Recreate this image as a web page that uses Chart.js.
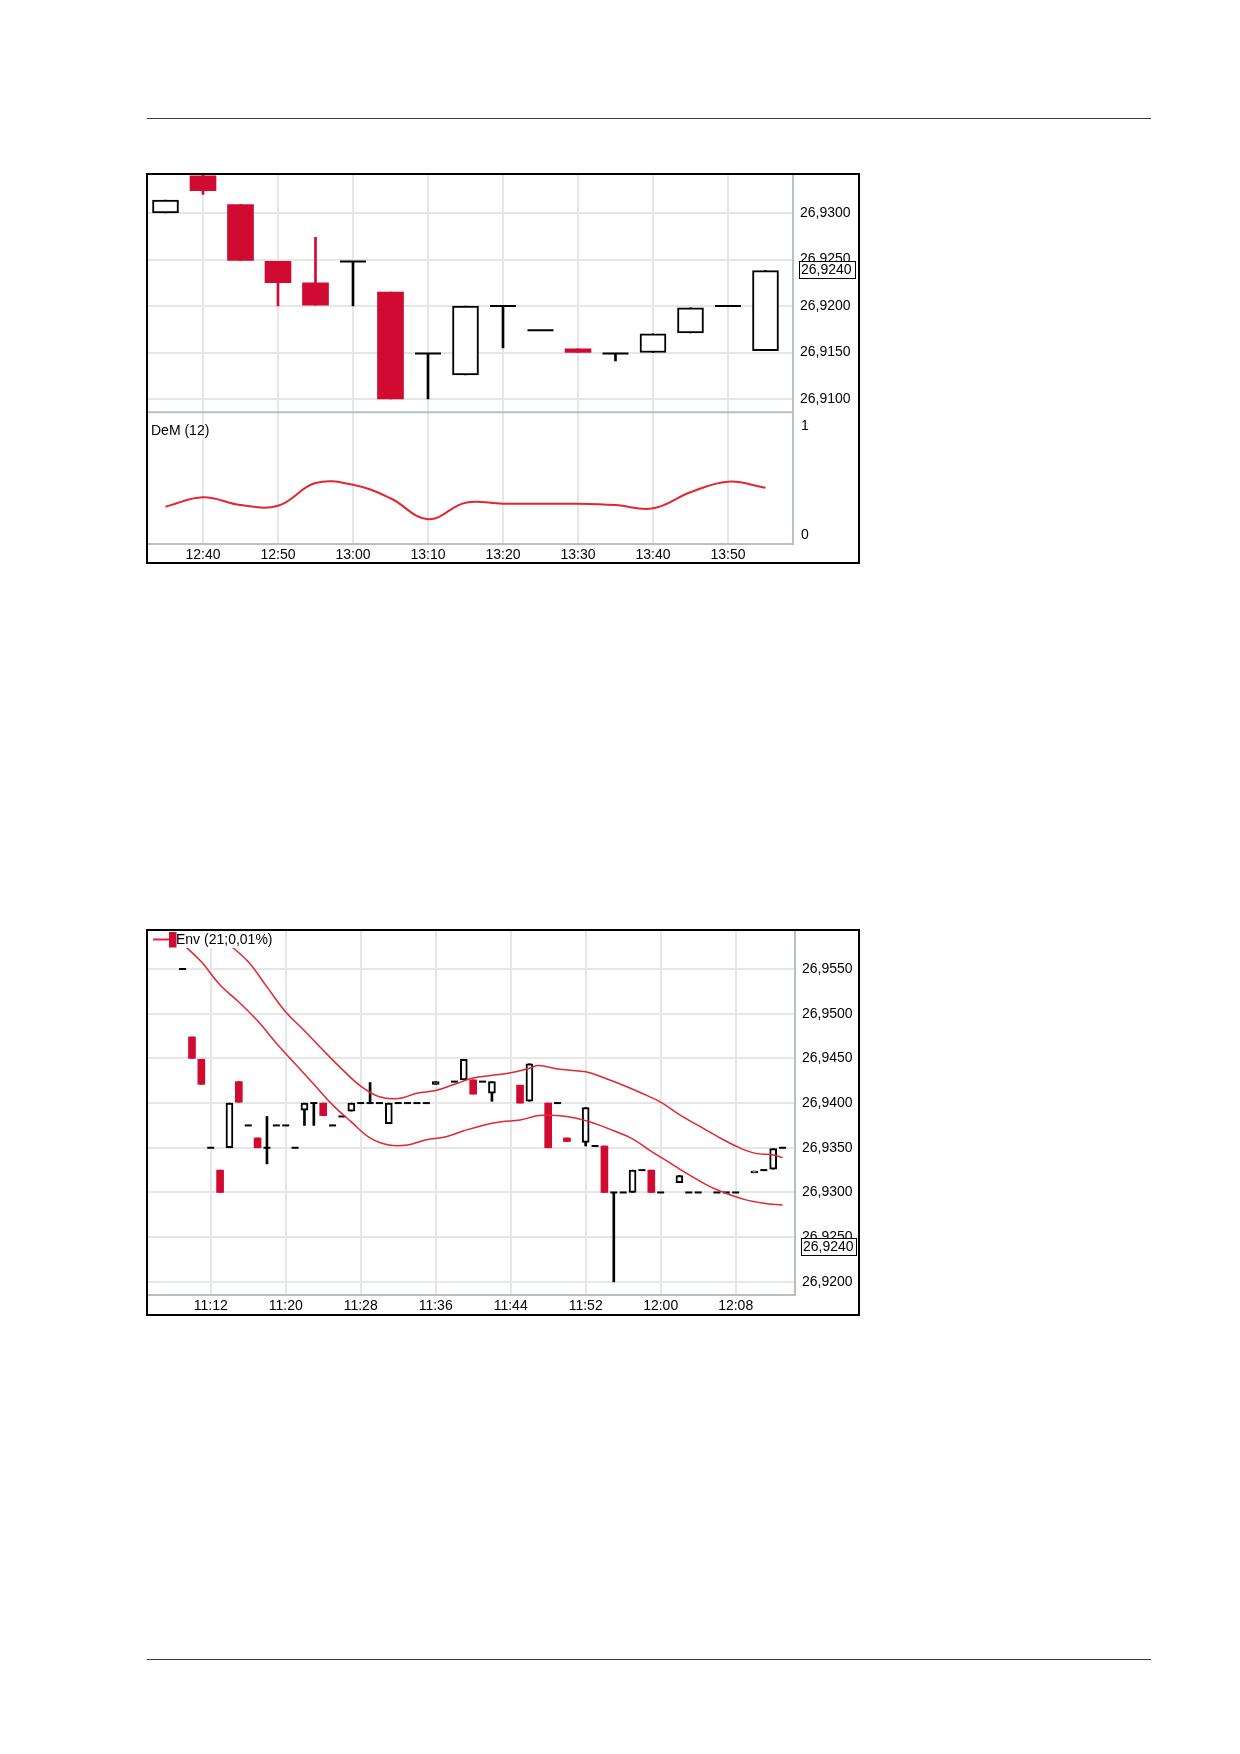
<!DOCTYPE html>
<html>
<head>
<meta charset="utf-8">
<title>Candles</title>
<script src="https://cdn.jsdelivr.net/npm/chart.js@4.4.1/dist/chart.umd.min.js"></script>
<style>
  body { margin: 0; width: 1240px; height: 1754px; background: #fff; position: relative; }
  .rule { position: absolute; left: 147px; width: 1004px; border-top: 1.5px solid #3c3c3c; }
  .box { position: absolute; left: 146px; border: 2px solid #000; background: #fff; }
  .box canvas { display: block; }
</style>
</head>
<body>
<div class="rule" style="top:117.5px"></div>
<div class="box" style="top:173px"><canvas id="c1" width="710" height="387"></canvas></div>
<div class="box" style="top:929px"><canvas id="c2" width="710" height="383"></canvas></div>
<div class="rule" style="top:1658.5px"></div>

<script>
// ---- chart 1: 5 min candles + DeM (12) ----
const times1 = ['12:35', '12:40', '12:45', '12:50', '12:55', '13:00', '13:05', '13:10', '13:15',
                '13:20', '13:25', '13:30', '13:35', '13:40', '13:45', '13:50', '13:55'];
const open1  = [26.9300, 26.9340, 26.9309, 26.9248, 26.9225, 26.9248, 26.9215, 26.9149, 26.9126,
                26.9200, 26.9174, 26.9154, 26.9149, 26.9150, 26.9171, 26.9200, 26.9152];
const high1  = [26.9314, 26.9346, 26.9309, 26.9248, 26.9274, 26.9248, 26.9215, 26.9149, 26.9200,
                26.9200, 26.9174, 26.9154, 26.9149, 26.9170, 26.9198, 26.9200, 26.9238];
const low1   = [26.9300, 26.9320, 26.9249, 26.9200, 26.9201, 26.9200, 26.9100, 26.9100, 26.9126,
                26.9155, 26.9174, 26.9150, 26.9141, 26.9150, 26.9171, 26.9200, 26.9152];
const close1 = [26.9314, 26.9324, 26.9249, 26.9225, 26.9201, 26.9248, 26.9100, 26.9149, 26.9200,
                26.9200, 26.9174, 26.9150, 26.9149, 26.9170, 26.9198, 26.9200, 26.9238];
const dem1   = [0.259, 0.345, 0.274, 0.268, 0.475, 0.460, 0.336, 0.144, 0.296,
                0.286, 0.286, 0.286, 0.274, 0.244, 0.391, 0.488, 0.433];
const xTicks1 = ['12:40', '12:50', '13:00', '13:10', '13:20', '13:30', '13:40', '13:50'];
const yTicks1 = [26.9100, 26.9150, 26.9200, 26.9250, 26.9300];
const demTicks = [0, 1];
const demLabel = 'DeM (12)';
const lastPrice1 = 26.9240;

// ---- chart 2: 1 min candles + envelope ----
const times2 = ['11:09', '11:10', '11:11', '11:12', '11:13', '11:14', '11:15', '11:16', '11:17', '11:18',
                '11:19', '11:20', '11:21', '11:22', '11:23', '11:24', '11:25', '11:26', '11:27', '11:28',
                '11:29', '11:30', '11:31', '11:32', '11:33', '11:34', '11:35', '11:36', '11:38', '11:39',
                '11:40', '11:41', '11:42', '11:45', '11:46', '11:48', '11:49', '11:50', '11:52', '11:53',
                '11:54', '11:55', '11:56', '11:57', '11:58', '11:59', '12:00', '12:02', '12:03', '12:04',
                '12:06', '12:07', '12:08', '12:10', '12:11', '12:12', '12:13'];
const open2  = [26.9550, 26.9474, 26.9449, 26.9350, 26.9325, 26.9350, 26.9424, 26.9375, 26.9361, 26.9350,
                26.9375, 26.9375, 26.9350, 26.9392, 26.9400, 26.9400, 26.9375, 26.9385, 26.9391, 26.9400,
                26.9400, 26.9400, 26.9377, 26.9400, 26.9400, 26.9400, 26.9400, 26.9421, 26.9424, 26.9426,
                26.9426, 26.9424, 26.9411, 26.9420, 26.9402, 26.9400, 26.9400, 26.9361, 26.9356, 26.9352,
                26.9352, 26.9300, 26.9300, 26.9300, 26.9325, 26.9325, 26.9300, 26.9311, 26.9300, 26.9300,
                26.9300, 26.9300, 26.9300, 26.9322, 26.9325, 26.9326, 26.9350];
const high2  = [26.9550, 26.9474, 26.9449, 26.9350, 26.9325, 26.9400, 26.9424, 26.9375, 26.9361, 26.9385,
                26.9375, 26.9375, 26.9350, 26.9400, 26.9400, 26.9400, 26.9375, 26.9385, 26.9400, 26.9400,
                26.9423, 26.9400, 26.9400, 26.9400, 26.9400, 26.9400, 26.9400, 26.9424, 26.9424, 26.9449,
                26.9426, 26.9424, 26.9424, 26.9420, 26.9444, 26.9400, 26.9400, 26.9361, 26.9395, 26.9352,
                26.9352, 26.9300, 26.9300, 26.9325, 26.9325, 26.9325, 26.9300, 26.9319, 26.9300, 26.9300,
                26.9300, 26.9300, 26.9300, 26.9324, 26.9325, 26.9349, 26.9350];
const low2   = [26.9550, 26.9450, 26.9421, 26.9350, 26.9300, 26.9350, 26.9401, 26.9375, 26.9350, 26.9332,
                26.9375, 26.9375, 26.9350, 26.9375, 26.9375, 26.9386, 26.9375, 26.9385, 26.9391, 26.9400,
                26.9400, 26.9400, 26.9377, 26.9400, 26.9400, 26.9400, 26.9400, 26.9421, 26.9424, 26.9426,
                26.9410, 26.9424, 26.9402, 26.9400, 26.9402, 26.9350, 26.9400, 26.9357, 26.9352, 26.9352,
                26.9300, 26.9200, 26.9300, 26.9300, 26.9325, 26.9300, 26.9300, 26.9311, 26.9300, 26.9300,
                26.9300, 26.9300, 26.9300, 26.9322, 26.9325, 26.9326, 26.9350];
const close2 = [26.9550, 26.9450, 26.9421, 26.9350, 26.9300, 26.9400, 26.9401, 26.9375, 26.9350, 26.9350,
                26.9375, 26.9375, 26.9350, 26.9400, 26.9400, 26.9386, 26.9375, 26.9385, 26.9400, 26.9400,
                26.9400, 26.9400, 26.9400, 26.9400, 26.9400, 26.9400, 26.9400, 26.9424, 26.9424, 26.9449,
                26.9410, 26.9424, 26.9424, 26.9400, 26.9444, 26.9350, 26.9400, 26.9357, 26.9395, 26.9352,
                26.9300, 26.9300, 26.9300, 26.9325, 26.9325, 26.9300, 26.9300, 26.9319, 26.9300, 26.9300,
                26.9300, 26.9300, 26.9300, 26.9324, 26.9325, 26.9349, 26.9350];
const envUpperTimes = ['11:11', '11:14', '11:16', '11:18', '11:20', '11:22', '11:24', '11:26', '11:28', '11:30',
                       '11:32', '11:34', '11:36', '11:38', '11:40', '11:42', '11:44', '11:46', '11:47', '11:49',
                       '11:52', '11:54', '11:56', '11:58', '12:00', '12:02', '12:04', '12:06', '12:08', '12:10',
                       '12:12', '12:13'];
const envUpper = [26.9603, 26.9577, 26.9558, 26.9530, 26.9502, 26.9481, 26.9459, 26.9438, 26.9419, 26.9407,
                  26.9405, 26.9411, 26.9414, 26.9421, 26.9428, 26.9431, 26.9434, 26.9439, 26.9442, 26.9438,
                  26.9435, 26.9428, 26.9420, 26.9411, 26.9401, 26.9387, 26.9375, 26.9363, 26.9352, 26.9344,
                  26.9342, 26.9339];
const envLowerTimes = ['11:07', '11:09', '11:11', '11:13', '11:15', '11:17', '11:19', '11:21', '11:23', '11:25',
                       '11:27', '11:29', '11:31', '11:33', '11:35', '11:37', '11:39', '11:41', '11:43', '11:45',
                       '11:47', '11:49', '11:51', '11:53', '11:55', '11:57', '11:59', '12:01', '12:03', '12:05',
                       '12:07', '12:09', '12:11', '12:13'];
const envLower = [26.9598, 26.9578, 26.9558, 26.9532, 26.9513, 26.9492, 26.9467, 26.9444, 26.9421, 26.9398,
                  26.9379, 26.9361, 26.9353, 26.9353, 26.9359, 26.9362, 26.9369, 26.9375, 26.9379, 26.9381,
                  26.9386, 26.9386, 26.9383, 26.9377, 26.9369, 26.9360, 26.9346, 26.9333, 26.9320, 26.9308,
                  26.9299, 26.9292, 26.9288, 26.9286];
const xTicks2 = ['11:12', '11:20', '11:28', '11:36', '11:44', '11:52', '12:00', '12:08'];
const yTicks2 = [26.9200, 26.9250, 26.9300, 26.9350, 26.9400, 26.9450, 26.9500, 26.9550];
const envLabel = 'Env (21;0,01%)';
const lastPrice2 = 26.9240;

const RED = '#d00a30';
const LINE_RED = '#e3262f';
const GRID = '#e6e6e6';
const AXIS = '#b6c2b6';
const FONT_FAMILY = '"Liberation Sans", Arial, sans-serif';

Chart.defaults.font.family = FONT_FAMILY;
Chart.defaults.font.size = 14;
Chart.defaults.color = '#000';

const toMin = s => { const p = s.split(':'); return +p[0] * 60 + +p[1]; };
const hhmm = v => Math.floor(v / 60) + ':' + String(Math.round(v % 60)).padStart(2, '0');
const price = v => v.toFixed(4).replace('.', ',');
const points = (times, vals) => times.map((t, i) => ({ x: toMin(t), y: vals[i] }));

// wicks, bodies and doji dashes as three datasets sharing the x positions
function candleSets(times, o, h, l, c, w) {
  const wicks = [], bodies = [], dashes = [];
  times.forEach((t, i) => {
    const x = toMin(t);
    const down = c[i] < o[i];
    if (h[i] > l[i]) wicks.push({ x, y: [l[i], h[i]], down });
    if (c[i] !== o[i]) bodies.push({ x, y: [o[i], c[i]], down });
    else dashes.push({ x, y: o[i] });
  });
  return [
    { type: 'bar', data: wicks, yAxisID: 'y', grouped: false, barThickness: 2, order: 3,
      backgroundColor: ctx => (ctx.raw && ctx.raw.down ? RED : '#000'), borderWidth: 0 },
    { type: 'bar', data: bodies, yAxisID: 'y', grouped: false, barThickness: w, order: 2,
      backgroundColor: ctx => (ctx.raw && ctx.raw.down ? RED : '#fff'),
      borderColor: ctx => (ctx.raw && ctx.raw.down ? RED : '#000'),
      borderWidth: ctx => (ctx.raw && ctx.raw.down ? 0 : 2), borderSkipped: false },
    { type: 'line', data: dashes, yAxisID: 'y', showLine: false, order: 1,
      pointStyle: 'line', pointRadius: w / 2, pointHoverRadius: w / 2,
      pointBorderWidth: 2, pointBorderColor: '#000' }
  ];
}

// no automatic label padding: the plot fills the frame like the original
const noPad = s => { s.paddingTop = s.paddingBottom = s.paddingLeft = s.paddingRight = 0; };

function xScale(ticks, min, max, height) {
  return {
    type: 'linear', min, max, offset: false,
    afterBuildTicks: s => { s.ticks = ticks.map(t => ({ value: toMin(t) })); },
    afterFit: s => { s.height = height; noPad(s); },
    ticks: { callback: v => hhmm(v), padding: 3, maxRotation: 0, autoSkip: false },
    grid: { color: GRID, lineWidth: 2, drawTicks: false, offset: false },
    border: { color: AXIS, width: 2 }
  };
}

function priceScale(ticks, min, max, width, extra) {
  return Object.assign({
    type: 'linear', position: 'right', min, max, beginAtZero: false,
    afterBuildTicks: s => { s.ticks = ticks.map(v => ({ value: v })); },
    afterFit: s => { s.width = width; noPad(s); },
    ticks: { callback: v => price(v), padding: 7, autoSkip: false },
    grid: { color: GRID, lineWidth: 2, drawTicks: false },
    border: { color: AXIS, width: 2 }
  }, extra);
}

// boxed last price on the right axis
const priceTag = {
  id: 'priceTag',
  afterDraw(chart, args, opts) {
    const s = chart.scales.y;
    const y = Math.round(s.getPixelForValue(opts.value)) + 1;
    const ctx = chart.ctx;
    ctx.save();
    ctx.fillStyle = '#fff';
    ctx.fillRect(s.left + opts.dx, y - 9, opts.w, 18);
    ctx.strokeStyle = '#000';
    ctx.lineWidth = 1;
    ctx.strokeRect(s.left + opts.dx + 0.5, y - 8.5, opts.w - 1, 17);
    ctx.fillStyle = '#000';
    ctx.font = '14px ' + FONT_FAMILY;
    ctx.textBaseline = 'middle';
    ctx.fillText(price(opts.value), s.left + opts.dx + 2, y + 0.5);
    ctx.restore();
  }
};

// separator + indicator title for the lower pane
const demPane = {
  id: 'demPane',
  beforeDatasetsDraw(chart) {
    const s = chart.scales.yDem, a = chart.chartArea, ctx = chart.ctx;
    ctx.save();
    ctx.strokeStyle = AXIS;
    ctx.lineWidth = 2;
    ctx.beginPath();
    ctx.moveTo(a.left, s.top);
    ctx.lineTo(a.right, s.top);
    ctx.stroke();
    ctx.restore();
  },
  afterDraw(chart, args, opts) {
    const s = chart.scales.yDem, a = chart.chartArea, ctx = chart.ctx;
    ctx.save();
    ctx.fillStyle = '#000';
    ctx.font = '14px ' + FONT_FAMILY;
    ctx.textBaseline = 'middle';
    ctx.fillText(opts.text, a.left + 3, s.top + 19);
    ctx.restore();
  }
};

// legend in the corner of the envelope chart
const envLegend = {
  id: 'envLegend',
  afterDatasetsDraw(chart, args, opts) {
    const a = chart.chartArea, ctx = chart.ctx;
    ctx.save();
    ctx.font = '14px ' + FONT_FAMILY;
    const tw = ctx.measureText(opts.text).width;
    ctx.fillStyle = '#fff';
    ctx.fillRect(a.left, a.top, 30 + tw, 17);
    ctx.strokeStyle = LINE_RED;
    ctx.lineWidth = 2;
    ctx.beginPath();
    ctx.moveTo(a.left + 5, a.top + 8.5);
    ctx.lineTo(a.left + 22, a.top + 8.5);
    ctx.stroke();
    ctx.fillStyle = RED;
    ctx.fillRect(a.left + 21, a.top + 1, 7.5, 15.5);
    ctx.fillStyle = '#000';
    ctx.textBaseline = 'middle';
    ctx.fillText(opts.text, a.left + 28, a.top + 9);
    ctx.restore();
  }
};

new Chart(document.getElementById('c1'), {
  type: 'bar',
  data: {
    datasets: [
      ...candleSets(times1, open1, high1, low1, close1, 26),
      { type: 'line', label: demLabel, data: points(times1, dem1), yAxisID: 'yDem',
        borderColor: LINE_RED, borderWidth: 2, pointRadius: 0, tension: 0.4, order: 0 }
    ]
  },
  options: {
    responsive: false,
    animation: false,
    events: [],
    layout: { autoPadding: false, padding: 0 },
    plugins: {
      legend: { display: false },
      tooltip: { enabled: false },
      priceTag: { value: lastPrice1, dx: 6, w: 57 },
      demPane: { text: demLabel }
    },
    scales: {
      x: xScale(xTicks1, 752.667, 838.667, 18),
      y: priceScale(yTicks1, 26.90857, 26.93409, 65, { stack: 'pane', stackWeight: 237.3, weight: 0 }),
      yDem: priceScale(demTicks, -0.0823, 1.1226, 65, {
        stack: 'pane', stackWeight: 131.7, weight: 1,
        afterBuildTicks: s => { s.ticks = demTicks.map(v => ({ value: v })); },
        ticks: { callback: v => String(v), padding: 8, autoSkip: false },
        grid: { drawOnChartArea: false, drawTicks: false }
      })
    }
  },
  plugins: [priceTag, demPane]
});

new Chart(document.getElementById('c2'), {
  type: 'bar',
  data: {
    datasets: [
      ...candleSets(times2, open2, high2, low2, close2, 7),
      { type: 'line', label: envLabel, data: points(envUpperTimes, envUpper), yAxisID: 'y',
        borderColor: LINE_RED, borderWidth: 1.5, pointRadius: 0, tension: 0.4, order: 0 },
      { type: 'line', label: envLabel, data: points(envLowerTimes, envLower), yAxisID: 'y',
        borderColor: LINE_RED, borderWidth: 1.5, pointRadius: 0, tension: 0.4, order: 0 }
    ]
  },
  options: {
    responsive: false,
    animation: false,
    events: [],
    layout: { autoPadding: false, padding: 0 },
    plugins: {
      legend: { display: false },
      tooltip: { enabled: false },
      priceTag: { value: lastPrice2, dx: 6, w: 56 },
      envLegend: { text: envLabel }
    },
    scales: {
      x: xScale(xTicks2, 665.31, 734.33, 19),
      y: priceScale(yTicks2, 26.91853, 26.95925, 63)
    }
  },
  plugins: [priceTag, envLegend]
});
</script>
</body>
</html>
